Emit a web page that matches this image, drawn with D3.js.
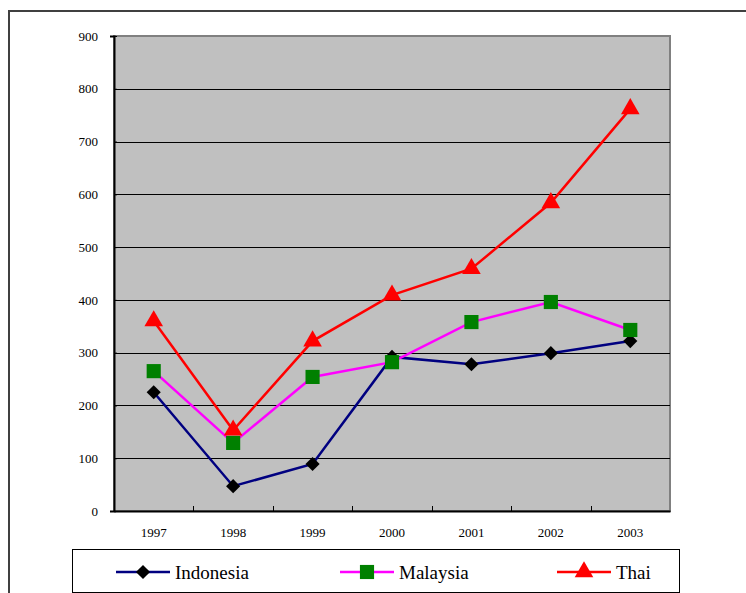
<!DOCTYPE html>
<html>
<head>
<meta charset="utf-8">
<script src="https://cdn.jsdelivr.net/npm/d3@7"></script>
<style>
  body { margin: 0; background: #fff; }
  svg { display: block; }
</style>
</head>
<body>
<svg id="chart" width="746" height="593"></svg>
<script>
const years = ['1997', '1998', '1999', '2000', '2001', '2002', '2003'];
const indonesia = [225, 47, 89, 292, 278, 299, 322];
const malaysia = [265, 129, 254, 282, 358, 396, 343];
const thai = [360, 153, 322, 409, 459, 584, 762];
const yTicks = [0, 100, 200, 300, 400, 500, 600, 700, 800, 900];

const FONT = "'Liberation Serif', 'Times New Roman', Times, 'DejaVu Serif', serif";

const svg = d3.select('#chart');

// outer chart frame (right/bottom fall outside the window)
svg.append('rect')
    .attr('x', 9).attr('y', 11)
    .attr('width', 760).attr('height', 620)
    .attr('fill', 'none')
    .attr('stroke', '#404040')
    .attr('stroke-width', 2);

const plot = { left: 114, right: 670, top: 36, bottom: 511 };

const x = d3.scaleBand().domain(years).range([plot.left, plot.right]);
const y = d3.scaleLinear().domain([0, 900]).range([plot.bottom, plot.top]);

// plot background
svg.append('rect')
    .attr('x', plot.left).attr('y', plot.top)
    .attr('width', plot.right - plot.left).attr('height', plot.bottom - plot.top)
    .attr('fill', '#c0c0c0')
    .attr('stroke', '#808080')
    .attr('stroke-width', 2);

// gridlines
svg.append('g')
    .selectAll('line')
    .data(yTicks.filter(t => t > 0 && t < 900))
    .enter().append('line')
    .attr('x1', plot.left).attr('x2', plot.right)
    .attr('y1', d => Math.round(y(d)) + 0.5).attr('y2', d => Math.round(y(d)) + 0.5)
    .attr('stroke', '#000').attr('stroke-width', 1);

// y axis
const yAxis = svg.append('g')
    .attr('transform', `translate(${plot.left},0)`)
    .call(d3.axisLeft(y).tickValues(yTicks).tickSize(4).tickPadding(12).tickFormat(d3.format('d')));
yAxis.attr('font-family', FONT).attr('font-size', 13);
yAxis.select('.domain').attr('stroke', '#000').attr('stroke-width', 2);
yAxis.selectAll('.tick line').attr('stroke', '#000').attr('x2', 3);
yAxis.selectAll('text').attr('fill', '#000');

// x axis
const xAxis = svg.append('g')
    .attr('transform', `translate(0,${plot.bottom})`)
    .call(d3.axisBottom(x).tickSize(0).tickPadding(17));
xAxis.attr('font-family', FONT).attr('font-size', 13);
xAxis.select('.domain').attr('stroke', '#000').attr('stroke-width', 2);
xAxis.selectAll('text').attr('fill', '#000');

// band boundary ticks (pointing up into the plot)
svg.append('g')
    .selectAll('line')
    .data(years.slice(1))
    .enter().append('line')
    .attr('x1', d => Math.round(x(d)) + 0.5).attr('x2', d => Math.round(x(d)) + 0.5)
    .attr('y1', plot.bottom).attr('y2', plot.bottom - 5)
    .attr('stroke', '#000').attr('stroke-width', 1);

const series = [
    { name: 'Indonesia', values: indonesia, line: '#000080', marker: '#000000', shape: d3.symbolSquare, size: 100, rotate: 45 },
    { name: 'Malaysia', values: malaysia, line: '#ff00ff', marker: '#008000', shape: d3.symbolSquare, size: 200, rotate: 0 },
    { name: 'Thai', values: thai, line: '#ff0000', marker: '#ff0000', shape: d3.symbolTriangle, size: 150, rotate: 0 }
];

const cx = i => x(years[i]) + x.bandwidth() / 2;
const lineGen = d3.line().x((d, i) => cx(i)).y(d => y(d));

series.forEach(s => {
    svg.append('path')
        .datum(s.values)
        .attr('d', lineGen)
        .attr('fill', 'none')
        .attr('stroke', s.line)
        .attr('stroke-width', 2.5);
});

series.forEach(s => {
    svg.append('g')
        .selectAll('path')
        .data(s.values)
        .enter().append('path')
        .attr('d', d3.symbol().type(s.shape).size(s.size))
        .attr('transform', (d, i) => `translate(${cx(i)},${y(d)}) rotate(${s.rotate})`)
        .attr('fill', s.marker);
});

// legend
const legend = svg.append('g');
legend.append('rect')
    .attr('x', 72.5).attr('y', 549.5)
    .attr('width', 607).attr('height', 43)
    .attr('fill', '#fff').attr('stroke', '#000').attr('stroke-width', 1);

const legendX = [116, 340, 557];
series.forEach((s, i) => {
    const lx = legendX[i], ly = 572;
    legend.append('line')
        .attr('x1', lx).attr('x2', lx + 54)
        .attr('y1', ly).attr('y2', ly)
        .attr('stroke', s.line).attr('stroke-width', 2.5);
    legend.append('path')
        .attr('d', d3.symbol().type(s.shape).size(s.size))
        .attr('transform', `translate(${lx + 27},${ly}) rotate(${s.rotate})`)
        .attr('fill', s.marker);
    legend.append('text')
        .attr('x', lx + 59).attr('y', ly + 7)
        .attr('font-family', FONT)
        .attr('font-size', 19)
        .attr('fill', '#000')
        .text(s.name);
});
</script>
</body>
</html>
